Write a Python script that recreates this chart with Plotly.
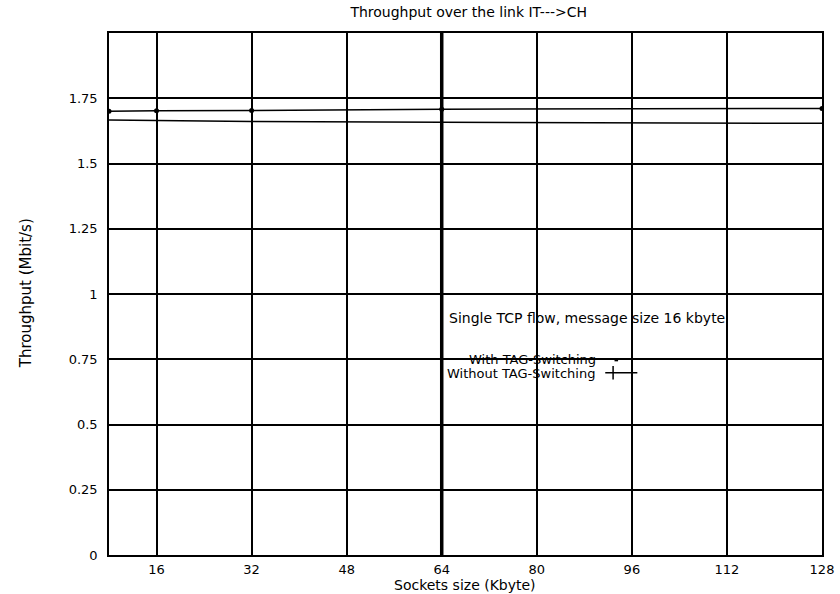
import plotly.graph_objects as go

socket_size = [8, 16, 32, 64, 128]
with_tag = [1.700, 1.702, 1.703, 1.708, 1.711]
without_tag = [1.667, 1.665, 1.661, 1.658, 1.654]
x_ticks = [16, 32, 48, 64, 80, 96, 112, 128]
y_ticks = [0, 0.25, 0.5, 0.75, 1, 1.25, 1.5, 1.75]
y_tick_labels = ["0", "0.25", "0.5", "0.75", "1", "1.25", "1.5", "1.75"]
highlight_x = 64

FONT = "DejaVu Sans, Verdana, sans-serif"
FS = 13

fig = go.Figure()
fig.add_trace(go.Scatter(x=socket_size, y=with_tag, mode="lines+markers",
                         line=dict(color="black", width=1.5),
                         marker=dict(color="black", size=5, symbol="circle"),
                         name="With TAG-Switching"))
fig.add_trace(go.Scatter(x=socket_size, y=without_tag, mode="lines",
                         line=dict(color="black", width=1.5),
                         name="Without TAG-Switching"))

fig.add_shape(type="line", xref="x", yref="y", x0=highlight_x, x1=highlight_x,
              y0=0, y1=2, line=dict(color="black", width=3.5))

# axis titles
fig.add_annotation(text="Sockets size (Kbyte)", xref="paper", yref="paper", x=0.499, y=-0.0575,
                   xanchor="center", yanchor="middle", showarrow=False,
                   font=dict(size=14, color="black", family=FONT))
fig.add_annotation(text="Throughput (Mbit/s)", xref="paper", yref="paper", x=-0.116, y=0.502,
                   xanchor="center", yanchor="middle", textangle=-90, showarrow=False,
                   font=dict(size=15, color="black", family=FONT))

# legend text
fig.add_annotation(text="Single TCP flow, message size 16 kbyte", xref="paper", yref="paper",
                   x=0.670, y=0.454, xanchor="center", yanchor="middle", showarrow=False,
                   font=dict(size=14, color="black", family=FONT))
fig.add_annotation(text="With TAG-Switching", xref="paper", yref="paper", x=0.686, y=0.374,
                   xanchor="right", yanchor="middle", showarrow=False,
                   font=dict(size=FS, color="black", family=FONT))
fig.add_annotation(text="Without TAG-Switching", xref="paper", yref="paper", x=0.684, y=0.347,
                   xanchor="right", yanchor="middle", showarrow=False,
                   font=dict(size=FS, color="black", family=FONT))
# legend samples
fig.add_shape(type="rect", xref="paper", yref="paper", x0=0.709, x1=0.714, y0=0.371, y1=0.377,
              fillcolor="black", line=dict(width=0))
fig.add_shape(type="line", xref="paper", yref="paper", x0=0.696, x1=0.741, y0=0.349, y1=0.349,
              line=dict(color="black", width=1.5))
fig.add_shape(type="line", xref="paper", yref="paper", x0=0.707, x1=0.707, y0=0.336, y1=0.362,
              line=dict(color="black", width=1.5))

fig.update_layout(
    width=840, height=594,
    margin=dict(l=109, r=18, t=33, b=39, autoexpand=False),
    paper_bgcolor="white", plot_bgcolor="white",
    showlegend=False,
    font=dict(family=FONT, size=FS, color="black"),
    title=dict(text="Throughput over the link IT--->CH", x=0.558, xanchor="center",
               y=0.979, yanchor="middle", automargin=False,
               font=dict(size=FS + 1, color="black", family=FONT)),
    xaxis=dict(range=[8, 128], tickvals=x_ticks, ticktext=[str(v) for v in x_ticks],
               showgrid=True, gridcolor="black", gridwidth=1.5, zeroline=False,
               showline=True, linecolor="black", linewidth=1.5, mirror=True,
               ticks="", ticklabelstandoff=2, automargin=False, ticklabeloverflow="allow"),
    yaxis=dict(range=[0, 2], tickvals=y_ticks, ticktext=y_tick_labels,
               showgrid=True, gridcolor="black", gridwidth=1.5, zeroline=False,
               showline=True, linecolor="black", linewidth=1.5, mirror=True,
               ticks="", ticklabelstandoff=7, automargin=False),
)

fig.write_html("out.html", config={"displayModeBar": False},
               post_script="document.body.style.margin='0px';")
